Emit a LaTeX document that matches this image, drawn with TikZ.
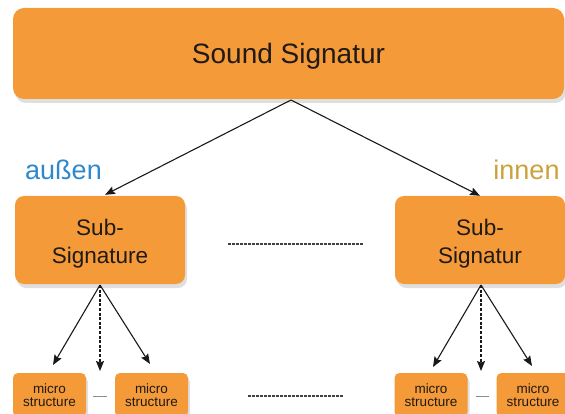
\documentclass[tikz,border=0pt]{standalone}
\usepackage{fontspec}
\setmainfont{Liberation Sans}
\usetikzlibrary{arrows.meta,shadows}
\definecolor{boxorange}{HTML}{F59A38}
\definecolor{aussenblue}{HTML}{2F88CC}
\definecolor{innengold}{HTML}{CCA13A}
\definecolor{textdark}{HTML}{1E1A16}
\tikzset{
  orangebox/.style={fill=boxorange, draw=none, align=center, inner sep=0pt, text=textdark,
    drop shadow={opacity=0.25, shadow xshift=2pt, shadow yshift=-4pt}},
  bigbox/.style={orangebox, rounded corners=11pt, minimum width=551pt, minimum height=91pt,
    font=\fontsize{28}{32}\selectfont},
  subbox/.style={orangebox, rounded corners=9pt, minimum width=170pt, minimum height=88pt,
    font=\fontsize{22.5}{28}\selectfont},
  microbox/.style={orangebox, rounded corners=5pt, minimum width=73pt, minimum height=44pt,
    font=\fontsize{13.5}{13.5}\selectfont},
  conn/.style={draw=black!90, line width=1.1pt, -{Stealth[length=10pt,width=8pt,inset=1.5pt]}},
  dconn/.style={conn, dash pattern=on 3pt off 1.6pt},
  fineline/.style={draw=black!75, line width=1.3pt, dash pattern=on 2.6pt off 1.4pt},
  shortline/.style={draw=black!45, line width=1pt},
}
\begin{document}
\begin{tikzpicture}[x=1pt,y=-1pt]
\useasboundingbox (0,0) rectangle (565,414);
\node[bigbox] (top) at (288.5,53.5) {\rule{0pt}{26pt}Sound Signatur};
\node[subbox] (ls) at (100,240) {\rule{0pt}{24pt}Sub-\\Signature};
\node[subbox] (rs) at (480,240) {\rule{0pt}{24pt}Sub-\\Signatur};
\node[text=aussenblue, font=\fontsize{27}{30}\selectfont] (aussen) at (63.5,170) {außen};
\node[text=innengold, font=\fontsize{27}{30}\selectfont] (innen) at (526.5,170) {innen};

\node[microbox] (m1) at (49.5,395) {micro\\structure};
\node[microbox] (m2) at (151.5,395) {micro\\structure};
\node[microbox] (m3) at (431,395) {micro\\structure};
\node[microbox] (m4) at (533,395) {micro\\structure};

\coordinate (apex) at (291,100);
\draw[conn] (apex) -- ([xshift=5pt,yshift=1pt]ls.north);
\draw[conn] (apex) -- ([yshift=0pt]rs.north);

\coordinate (lsb) at (100,285);
\coordinate (l1) at (53,365);
\coordinate (l2) at (100,371);
\coordinate (l3) at (150,364);
\draw[conn] (lsb) -- (l1);
\draw[dconn] (lsb) -- (l2);
\draw[conn] (lsb) -- (l3);

\coordinate (rsb) at (481,285);
\coordinate (r1) at (433,367);
\coordinate (r2) at (481,371);
\coordinate (r3) at (532,366);
\draw[conn] (rsb) -- (r1);
\draw[dconn] (rsb) -- (r2);
\draw[conn] (rsb) -- (r3);

\coordinate (d1a) at (228,244);
\coordinate (d1b) at (363,244);
\draw[fineline] (d1a) -- (d1b);
\coordinate (d2a) at (248,396);
\coordinate (d2b) at (343,396);
\draw[fineline] (d2a) -- (d2b);

\draw[shortline] (m1.east) ++(7,1) -- ++(14,0);
\draw[shortline] (m3.east) ++(8,1) -- ++(13,0);
\end{tikzpicture}
\end{document}
